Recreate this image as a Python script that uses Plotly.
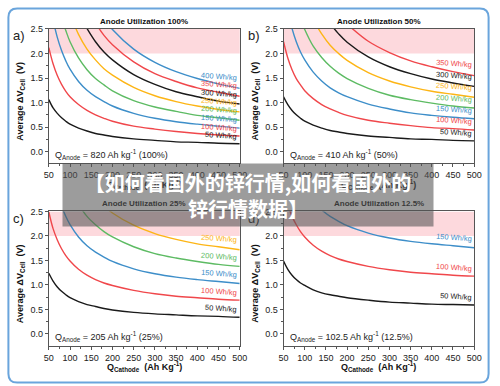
import plotly.graph_objects as go

# ---------------- data ----------------
Q_CATHODE = [50, 60, 70, 80, 90, 100, 120, 140, 160, 180, 200, 250, 300, 350, 400, 450, 500]

# Panel a: anode utilization 100 % (Q_anode = 820)
A_50 = [1.06, 0.89, 0.78, 0.69, 0.62, 0.56, 0.48, 0.42, 0.37, 0.34, 0.31, 0.26, 0.23, 0.20, 0.19, 0.17, 0.16]
A_100 = [2.12, 1.79, 1.55, 1.37, 1.23, 1.12, 0.96, 0.84, 0.75, 0.68, 0.62, 0.52, 0.46, 0.41, 0.37, 0.34, 0.32]
A_150 = [None, 2.68, 2.33, 2.06, 1.85, 1.68, 1.43, 1.25, 1.12, 1.02, 0.93, 0.78, 0.68, 0.61, 0.56, 0.52, 0.48]
A_200 = [None, None, None, 2.74, 2.47, 2.24, 1.91, 1.67, 1.49, 1.36, 1.24, 1.04, 0.91, 0.82, 0.74, 0.69, 0.64]
A_250 = [None, None, None, None, None, 2.81, 2.39, 2.09, 1.87, 1.69, 1.56, 1.31, 1.14, 1.02, 0.93, 0.86, 0.81]
A_300 = [None, None, None, None, None, None, None, 2.51, 2.24, 2.03, 1.87, 1.57, 1.37, 1.22, 1.12, 1.03, 0.97]
A_350 = [None, None, None, None, None, None, None, None, 2.62, 2.37, 2.18, 1.83, 1.59, 1.43, 1.30, 1.21, 1.13]
A_400 = [None, None, None, None, None, None, None, None, None, 2.71, 2.49, 2.09, 1.82, 1.63, 1.49, 1.38, 1.29]

# Panel b: anode utilization 50 % (Q_anode = 410)
B_50 = [1.12, 0.96, 0.84, 0.75, 0.68, 0.62, 0.54, 0.48, 0.43, 0.40, 0.37, 0.32, 0.29, 0.26, 0.25, 0.23, 0.22]
B_100 = [2.24, 1.91, 1.67, 1.49, 1.36, 1.24, 1.08, 0.96, 0.87, 0.80, 0.74, 0.64, 0.58, 0.53, 0.49, 0.47, 0.44]
B_150 = [None, 2.87, 2.51, 2.24, 2.03, 1.87, 1.62, 1.44, 1.30, 1.20, 1.12, 0.97, 0.87, 0.79, 0.74, 0.70, 0.67]
B_200 = [None, None, None, None, 2.71, 2.49, 2.15, 1.92, 1.74, 1.60, 1.49, 1.29, 1.15, 1.06, 0.99, 0.93, 0.89]
B_250 = [None, None, None, None, None, None, 2.69, 2.40, 2.17, 2.00, 1.86, 1.61, 1.44, 1.32, 1.23, 1.17, 1.11]
B_300 = [None, None, None, None, None, None, None, None, 2.61, 2.40, 2.23, 1.93, 1.73, 1.59, 1.48, 1.40, 1.33]
B_350 = [None, None, None, None, None, None, None, None, None, None, 2.60, 2.25, 2.02, 1.85, 1.73, 1.63, 1.55]

# Panel c: anode utilization 25 % (Q_anode = 205)
C_50 = [1.24, 1.08, 0.96, 0.87, 0.80, 0.74, 0.66, 0.60, 0.56, 0.52, 0.49, 0.44, 0.41, 0.39, 0.37, 0.36, 0.34]
C_100 = [2.49, 2.15, 1.92, 1.74, 1.60, 1.49, 1.32, 1.20, 1.11, 1.04, 0.99, 0.89, 0.82, 0.77, 0.74, 0.71, 0.69]
C_150 = [None, None, None, 2.61, 2.40, 2.23, 1.98, 1.80, 1.67, 1.57, 1.48, 1.33, 1.23, 1.16, 1.11, 1.07, 1.03]
C_200 = [None, None, None, None, None, None, 2.64, 2.40, 2.23, 2.09, 1.98, 1.78, 1.64, 1.55, 1.48, 1.42, 1.38]
C_250 = [None, None, None, None, None, None, None, None, None, 2.61, 2.47, 2.22, 2.05, 1.93, 1.84, 1.78, 1.72]

# Panel d: anode utilization 12.5 % (Q_anode = 102.5)
D_50 = [1.49, 1.32, 1.20, 1.11, 1.04, 0.99, 0.90, 0.84, 0.80, 0.77, 0.74, 0.69, 0.65, 0.63, 0.61, 0.60, 0.59]
D_100 = [None, 2.64, 2.40, 2.23, 2.09, 1.98, 1.81, 1.69, 1.60, 1.53, 1.48, 1.38, 1.31, 1.26, 1.23, 1.20, 1.18]
D_150 = [None, None, None, None, None, None, None, 2.53, 2.40, 2.30, 2.21, 2.06, 1.96, 1.89, 1.84, 1.80, 1.76]

ENERGY_LABELS = ["50 Wh/kg", "100 Wh/kg", "150 Wh/kg", "200 Wh/kg",
                 "250 Wh/kg", "300 Wh/kg", "350 Wh/kg", "400 Wh/kg"]
PANEL_TITLES = ["Anode Utilization 100%", "Anode Utilization 50%",
                "Anode Utilization 25%", "Anode Utilization 12.5%"]
PANEL_LETTERS = ["a)", "b)", "c)", "d)"]
Q_ANODE = ["820", "410", "205", "102.5"]
UTIL = ["100%", "50%", "25%", "12.5%"]
X_TICKS = [50, 100, 150, 200, 250, 300, 350, 400, 450, 500]
Y_TICKS = [0.0, 0.5, 1.0, 1.5, 2.0, 2.5]

PANELS = [
    [A_50, A_100, A_150, A_200, A_250, A_300, A_350, A_400],
    [B_50, B_100, B_150, B_200, B_250, B_300, B_350],
    [C_50, C_100, C_150, C_200, C_250],
    [D_50, D_100, D_150],
]

# ---------------- styling ----------------
W, H = 500, 386
BLACK = "#1a1a1a"
RED = "#f0474b"
BLUE = "#3d8ec9"
GREEN = "#5dbb63"
ORANGE = "#fdb515"
COLORS = [BLACK, RED, BLUE, GREEN, ORANGE, BLACK, RED, BLUE]
FONT = "Liberation Sans, Arial, sans-serif"
PINK = "#fdd9dd"


def px(x):
    return x / W


def py(y):
    return 1 - y / H


COLS = [(45, 241), (286, 481.7)]
ROWS = [(24.3, 160.5), (209.2, 345.2)]
YRANGE = [-0.24, 2.5]

fig = go.Figure()
annotations = []
shapes = []

for i, series in enumerate(PANELS):
    r, c = divmod(i, 2)
    n = i + 1
    xa = "x" if n == 1 else f"x{n}"
    ya = "y" if n == 1 else f"y{n}"
    xname = "xaxis" if n == 1 else f"xaxis{n}"
    yname = "yaxis" if n == 1 else f"yaxis{n}"
    x0, x1 = COLS[c]
    y0, y1 = ROWS[r]

    axis_common = dict(
        showline=True, linecolor="#555", linewidth=1, mirror=True,
        ticks="outside", ticklen=3, tickcolor="#555", showgrid=False,
        zeroline=False, tickfont=dict(family=FONT, size=9, color="#222"),
    )
    fig.layout[xname] = dict(
        domain=[px(x0), px(x1)], range=[50, 500], anchor=ya,
        tickvals=X_TICKS, minor=dict(ticks="outside", ticklen=2, dtick=25, tick0=0, tickcolor="#555"),
        **axis_common,
    )
    fig.layout[yname] = dict(
        domain=[py(y1), py(y0)], range=YRANGE, anchor=xa,
        tickvals=Y_TICKS, tickformat=".1f",
        minor=dict(ticks="outside", ticklen=2, dtick=0.25, tick0=0, tickcolor="#555"),
        **axis_common,
    )

    shapes.append(dict(type="rect", xref=f"{xa} domain", yref=ya, x0=0, x1=1,
                       y0=2.0, y1=2.5, fillcolor=PINK, line=dict(width=0), layer="below"))

    for k, vals in enumerate(series):
        fig.add_trace(go.Scatter(
            x=Q_CATHODE, y=vals, mode="lines", xaxis=xa, yaxis=ya,
            line=dict(color=COLORS[k], width=1.4, shape="spline"),
            showlegend=False, hoverinfo="skip",
        ))
        annotations.append(dict(
            x=500, y=vals[-2], xref=xa, yref=ya, xanchor="right", yanchor="bottom",
            text=ENERGY_LABELS[k], showarrow=False, textangle=4,
            font=dict(family=FONT, size=7.5, color=COLORS[k]),
        ))

    annotations.append(dict(
        x=60, y=-0.06, xref=xa, yref=ya, xanchor="left", yanchor="middle",
        text=f"Q<sub>Anode</sub> = {Q_ANODE[i]} Ah kg<sup>-1</sup> ({UTIL[i]})",
        showarrow=False, font=dict(family=FONT, size=9, color="#222"),
    ))
    cx = (x0 + x1) / 2
    annotations.append(dict(
        x=px(cx), y=py(y0 - 8), xref="paper", yref="paper", xanchor="center", yanchor="middle",
        text=f"<b>{PANEL_TITLES[i]}</b>", showarrow=False,
        font=dict(family=FONT, size=8, color="#111"),
    ))
    annotations.append(dict(
        x=px(14 if c == 0 else 256), y=py(y0 + 7), xref="paper", yref="paper",
        xanchor="center", yanchor="middle", text=PANEL_LETTERS[i], showarrow=False,
        font=dict(family=FONT, size=13, color="#222"),
    ))
    annotations.append(dict(
        x=px(16 if c == 0 else 257), y=py((y0 + y1) / 2 + 5), xref="paper", yref="paper",
        xanchor="center", yanchor="middle", textangle=-90,
        text="<b>Average \u0394V<sub>Cell</sub>  (V)</b>", showarrow=False,
        font=dict(family=FONT, size=9, color="#111"),
    ))
    annotations.append(dict(
        x=px(cx), y=py(y1 + 21.5), xref="paper", yref="paper",
        xanchor="center", yanchor="middle",
        text="<b>Q<sub>Cathode</sub>  (Ah Kg<sup>-1</sup>)</b>", showarrow=False,
        font=dict(family=FONT, size=9, color="#111"),
    ))

# outer rounded frame
L, R, T, B = px(3.5), px(496.5), py(3.5), py(382.5)
rx, ry = 9 / W, 9 / H
path = (f"M {L+rx},{T} L {R-rx},{T} Q {R},{T} {R},{T-ry} L {R},{B+ry} Q {R},{B} {R-rx},{B} "
        f"L {L+rx},{B} Q {L},{B} {L},{B+ry} L {L},{T-ry} Q {L},{T} {L+rx},{T} Z")
shapes.append(dict(type="path", path=path, xref="paper", yref="paper",
                   line=dict(color="#6aa5dc", width=2), layer="above"))

# overlay banner title
annotations.append(dict(
    x=px(249), y=py(192), xref="paper", yref="paper", xanchor="center", yanchor="middle",
    text="<b>【如何看国外的锌行情,如何看国外的<br>锌行情数据】</b>",
    showarrow=False, width=370, height=62, bgcolor="rgba(85,85,85,0.58)",
    borderpad=0, align="center",
    font=dict(family="Noto Sans CJK SC", size=20, color="white"),
))

fig.update_layout(
    width=W, height=H, margin=dict(l=0, r=0, t=0, b=0),
    paper_bgcolor="white", plot_bgcolor="white",
    annotations=annotations, shapes=shapes, showlegend=False,
)

fig.write_html("out.html")
